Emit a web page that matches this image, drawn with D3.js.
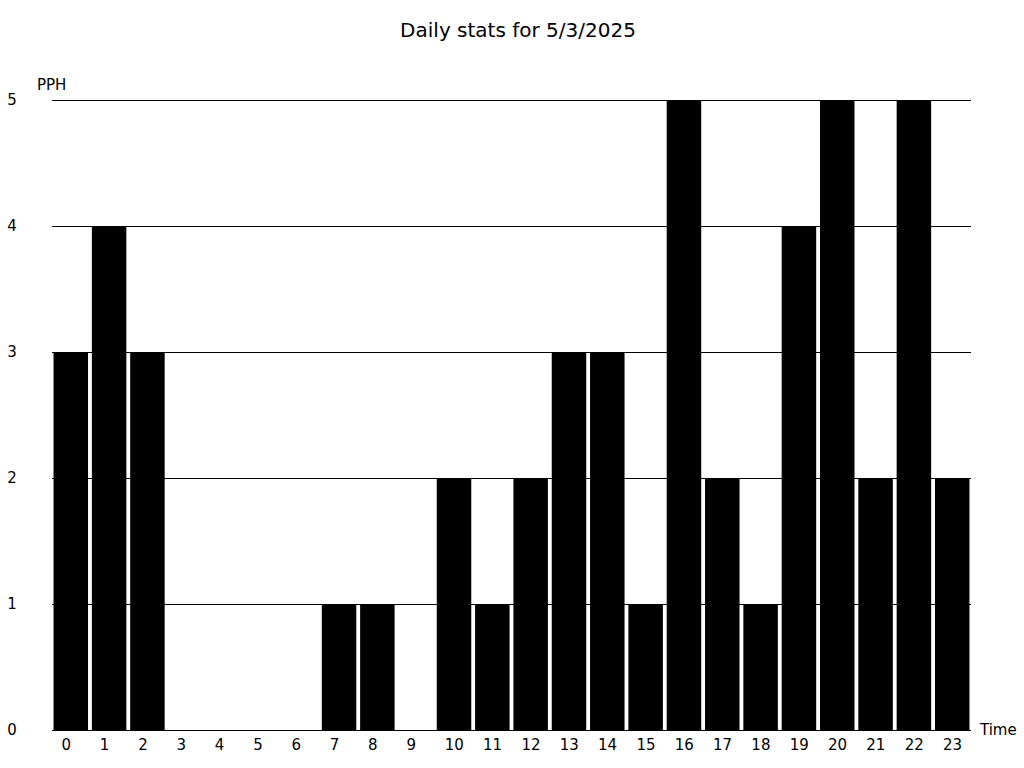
<!DOCTYPE html>
<html><head><meta charset="utf-8">
<script src="https://cdn.jsdelivr.net/npm/d3@7"></script>
<style>body{margin:0;background:#fff;} text{font-family:"DejaVu Sans",sans-serif;}</style>
</head><body><svg id="c" width="1024" height="768"></svg>
<script>
const hours = ["0","1","2","3","4","5","6","7","8","9","10","11","12","13","14","15","16","17","18","19","20","21","22","23"];
const pph = [3,4,3,0,0,0,0,1,1,0,2,1,2,3,3,1,5,2,1,4,5,2,5,2];
const yTicks = [0,1,2,3,4,5];
const title = "Daily stats for 5/3/2025";

const svg = d3.select("#c");
const L = 52, R = 971, T = 100, B = 730;
const x = d3.scaleBand().domain(hours).range([L, R]).paddingInner(0.1).paddingOuter(0.04);
const y = d3.scaleLinear().domain([0, 5]).range([B, T]);

svg.append("text").attr("x", 518).attr("y", 37).attr("text-anchor", "middle")
  .attr("font-size", 20).text(title);

// gridlines
svg.append("g").selectAll("line").data(yTicks).join("line")
  .attr("x1", L).attr("x2", R).attr("y1", d => y(d)).attr("y2", d => y(d))
  .attr("stroke", "#000").attr("stroke-width", 1).attr("shape-rendering", "crispEdges");

// y labels
svg.append("g").selectAll("text").data(yTicks).join("text")
  .attr("x", 12).attr("y", d => y(d)).attr("dy", "0.35em").attr("text-anchor", "middle")
  .attr("font-size", 15).text(d => d);

svg.append("text").attr("x", 37).attr("y", 90).attr("font-size", 15).text("PPH");
svg.append("text").attr("x", 980).attr("y", 735).attr("font-size", 15).text("Time");

// bars
svg.append("g").selectAll("rect").data(pph).join("rect")
  .attr("x", (d, i) => x(hours[i])).attr("width", x.bandwidth())
  .attr("y", d => y(d)).attr("height", d => B - y(d)).attr("fill", "#000");

// x labels (left-anchored within each band)
svg.append("g").selectAll("text").data(hours).join("text")
  .attr("x", d => x(d) + 8).attr("y", B + 15).attr("dy", "0.35em")
  .attr("text-anchor", "start").attr("font-size", 15).text(d => d);
</script></body></html>
